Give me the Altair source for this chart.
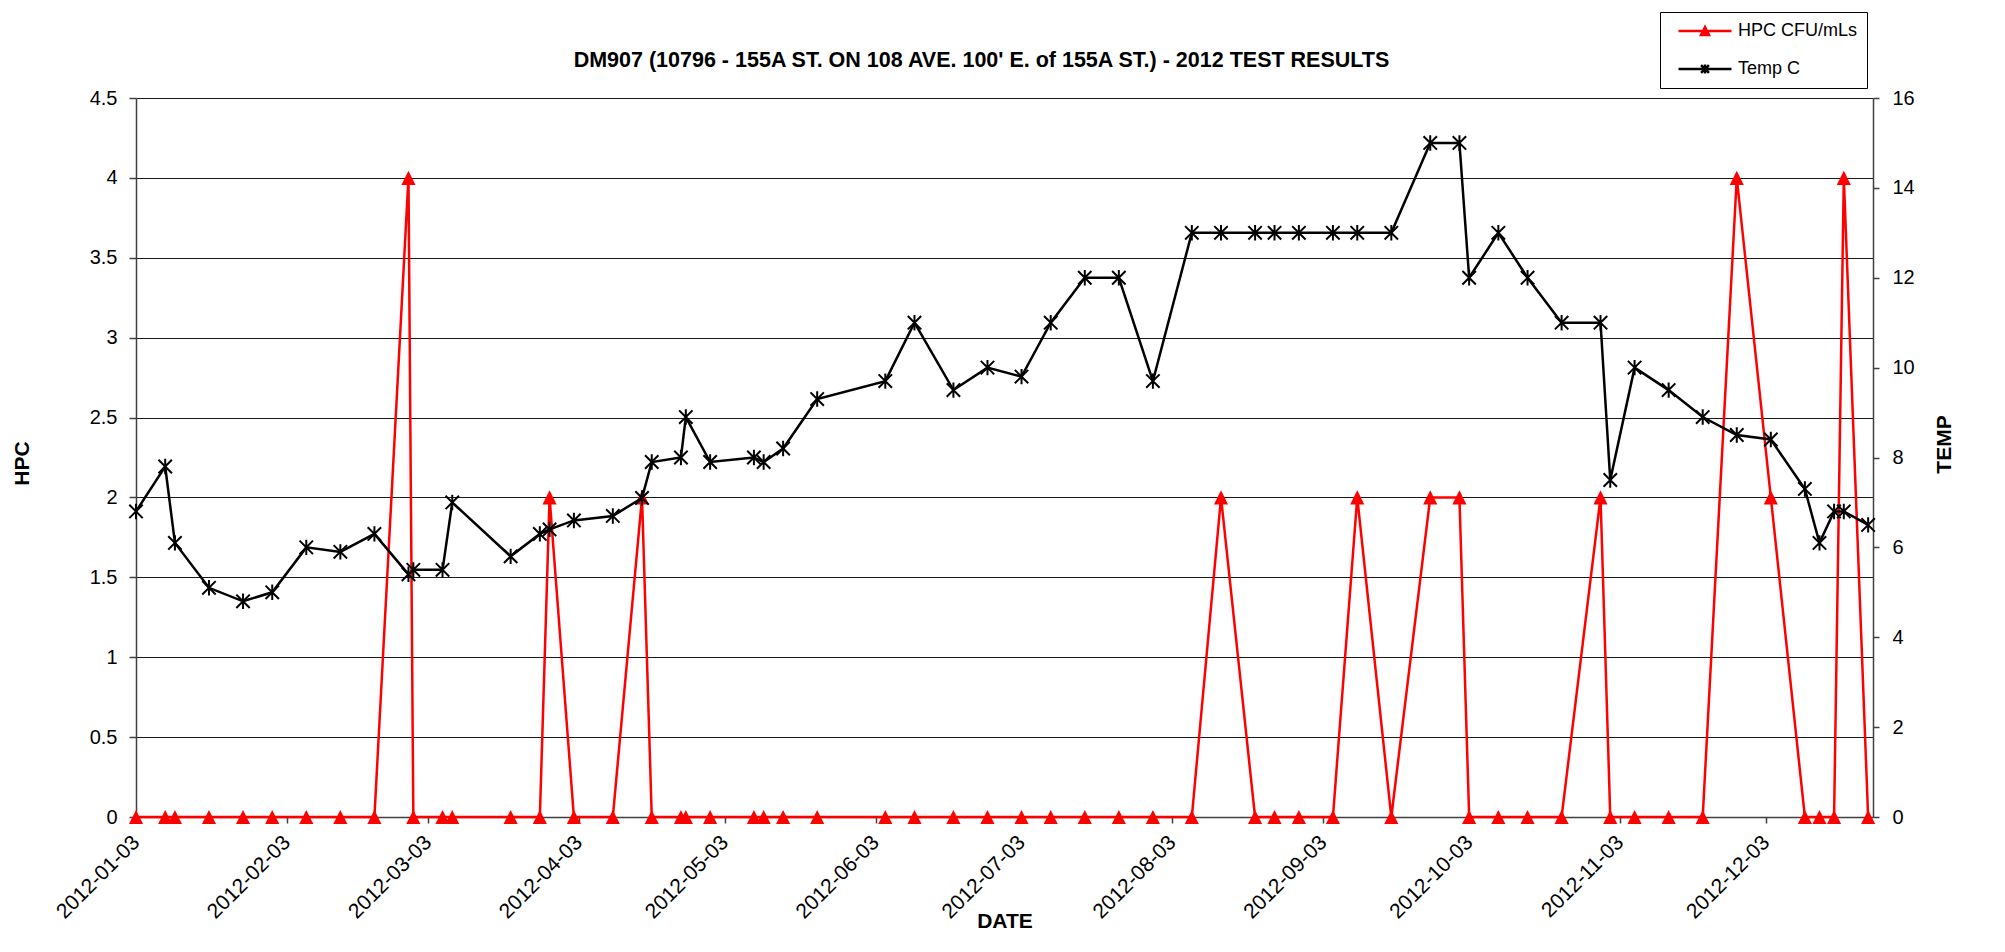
import altair as alt
import pandas as pd

# ---------------- data ----------------
dates = ["2012-01-03", "2012-01-09", "2012-01-11", "2012-01-18", "2012-01-25", "2012-01-31",
         "2012-02-07", "2012-02-14", "2012-02-21", "2012-02-28", "2012-02-29",
         "2012-03-06", "2012-03-08", "2012-03-20", "2012-03-26", "2012-03-28",
         "2012-04-02", "2012-04-10", "2012-04-16", "2012-04-18", "2012-04-24", "2012-04-25", "2012-04-30",
         "2012-05-09", "2012-05-11", "2012-05-15", "2012-05-22",
         "2012-06-05", "2012-06-11", "2012-06-19", "2012-06-26",
         "2012-07-03", "2012-07-09", "2012-07-16", "2012-07-23", "2012-07-30",
         "2012-08-07", "2012-08-13", "2012-08-20", "2012-08-24", "2012-08-29",
         "2012-09-05", "2012-09-10", "2012-09-17", "2012-09-25",
         "2012-10-01", "2012-10-03", "2012-10-09", "2012-10-15", "2012-10-22", "2012-10-30",
         "2012-11-01", "2012-11-06", "2012-11-13", "2012-11-20", "2012-11-27",
         "2012-12-04", "2012-12-11", "2012-12-14", "2012-12-17", "2012-12-19", "2012-12-24"]

hpc = [0, 0, 0, 0, 0, 0,
       0, 0, 0, 4, 0,
       0, 0, 0, 0, 2,
       0, 0, 2, 0, 0, 0, 0,
       0, 0, 0, 0,
       0, 0, 0, 0,
       0, 0, 0, 0, 0,
       0, 2, 0, 0, 0,
       0, 2, 0, 2,
       2, 0, 0, 0, 0, 2,
       0, 0, 0, 0, 4,
       2, 0, 0, 0, 4, 0]

temp = [6.8, 7.8, 6.1, 5.1, 4.8, 5.0,
        6.0, 5.9, 6.3, 5.4, 5.5,
        5.5, 7.0, 5.8, 6.3, 6.4,
        6.6, 6.7, 7.1, 7.9, 8.0, 8.9, 7.9,
        8.0, 7.9, 8.2, 9.3,
        9.7, 11.0, 9.5, 10.0,
        9.8, 11.0, 12.0, 12.0, 9.7,
        13, 13, 13, 13, 13,
        13, 13, 13, 15,
        15, 12, 13, 12, 11, 11,
        7.5, 10.0, 9.5, 8.9, 8.5,
        8.4, 7.3, 6.1, 6.8, 6.8, 6.5]

tick_months = [1, 2, 3, 4, 5, 6, 7, 8, 9, 10, 11, 12]
hpc_ticks = [0, 0.5, 1, 1.5, 2, 2.5, 3, 3.5, 4, 4.5]
temp_ticks = [0, 2, 4, 6, 8, 10, 12, 14, 16]
series = ["HPC CFU/mLs", "Temp C"]

TITLE = "DM907 (10796 - 155A ST. ON 108 AVE. 100' E. of 155A ST.) - 2012 TEST RESULTS"

df = pd.DataFrame({"date": dates, "hpc": hpc, "temp": temp})
legend_df = pd.DataFrame({"series": series})

FONT = "Liberation Sans"
RED = "#ff0000"
BLACK = "#000000"
AXIS_GREY = "#404040"

TRI = "M0,-1L1,1L-1,1Z"
STAR = "M-1,-1L1,1M-1,1L1,-1M0,-1.15L0,1.15"
LEG_TRI = ("M-1,0L1,0M0,-0.15L0.15,0.15L-0.15,0.15Z"
           "M-0.0375,-0.075L0.0375,-0.075M-0.075,0L0.075,0M-0.1125,0.075L0.1125,0.075")
LEG_STAR = "M-1,0L1,0M-0.15,-0.15L0.15,0.15M-0.15,0.15L0.15,-0.15M0,-0.17L0,0.17"

x_enc = alt.X(
    "date:T",
    scale=alt.Scale(type="utc",
                    domain=[alt.DateTime(year=2012, month=1, date=3, utc=True),
                            alt.DateTime(year=2012, month=12, date=25, utc=True)]),
    axis=alt.Axis(
        values=[alt.DateTime(year=2012, month=m, date=3, utc=True) for m in tick_months],
        format="%Y-%m-%d", labelAngle=-45, labelAlign="right", labelBaseline="middle",
        labelFlush=False, labelOverlap=False, labelPadding=16, labelFontSize=21,
        grid=False, title="DATE", titleY=110, titleBaseline="alphabetic",
    ),
)

y_hpc = alt.Y(
    "hpc:Q",
    scale=alt.Scale(domain=[0, 4.5], nice=False, zero=True),
    axis=alt.Axis(orient="left", values=hpc_ticks, format="~g", grid=True, tickSize=7,
                  labelPadding=12, title="HPC", titleAngle=270, titleX=-108, titleY=365,
                  titleBaseline="alphabetic", titleAlign="center"),
)

y_temp = alt.Y(
    "temp:Q",
    scale=alt.Scale(domain=[0, 16], nice=False, zero=True),
    axis=alt.Axis(orient="right", values=temp_ticks, format="~g", grid=False,
                  labelPadding=13, title="TEMP", titleAngle=270, titleX=77, titleY=346,
                  titleBaseline="alphabetic", titleAlign="center"),
)

base = alt.Chart(df)

hpc_line = base.mark_line(color=RED, strokeWidth=2.5).encode(x=x_enc, y=y_hpc)
hpc_pts = base.mark_point(shape=TRI, filled=True, color=RED, size=200, opacity=1).encode(x=x_enc, y=y_hpc)

temp_line = base.mark_line(color=BLACK, strokeWidth=2.5).encode(x=x_enc, y=y_temp)
temp_pts = base.mark_point(shape=STAR, filled=False, color=BLACK, size=180, strokeWidth=2,
                           opacity=1).encode(x=x_enc, y=y_temp)

leg_common = dict(title=None, orient="none", legendX=1524, legendY=-86,
                  symbolSize=2809, symbolStrokeWidth=2.5, symbolOffset=8, labelOffset=5,
                  clipHeight=20, rowPadding=18, padding=9,
                  labelFont=FONT, labelFontSize=18, labelColor=BLACK,
                  strokeColor=BLACK, fillColor="#ffffff")

legend_layer = alt.Chart(legend_df).transform_filter("false").mark_point(
    filled=False, strokeWidth=2.5, size=2809, opacity=1
).encode(
    color=alt.Color("series:N", scale=alt.Scale(domain=series, range=[RED, BLACK]),
                    legend=alt.Legend(**leg_common)),
    shape=alt.Shape("series:N", scale=alt.Scale(domain=series, range=[LEG_TRI, LEG_STAR]),
                    legend=alt.Legend(**leg_common)),
)

chart = alt.layer(
    alt.layer(hpc_line, hpc_pts),
    alt.layer(temp_line, temp_pts),
    legend_layer,
).resolve_scale(y="independent").properties(
    width=1737,
    height=719,
    autosize=alt.AutoSizeParams(type="none"),
    padding={"left": 128, "top": 90, "right": 120, "bottom": 120},
    background="#ffffff",
    title=alt.TitleParams(TITLE, frame="group", anchor="middle", dx=-23, dy=110, offset=33,
                          baseline="alphabetic", font=FONT, fontSize=21.5, fontWeight="bold",
                          color=BLACK),
).configure_axis(
    labelFont=FONT, titleFont=FONT, labelFontSize=20, titleFontSize=21,
    titleFontWeight="bold", labelColor=BLACK, titleColor=BLACK,
    domainColor=AXIS_GREY, domainWidth=1.5, tickColor=AXIS_GREY, tickWidth=1.5, tickSize=6,
    gridColor="#1a1a1a", gridWidth=1, gridOpacity=1,
).configure_legend(
    strokeWidth=1,
).configure_view(
    strokeWidth=0,
)

chart.save("out.html", embed_options={"renderer": "svg", "actions": False})
